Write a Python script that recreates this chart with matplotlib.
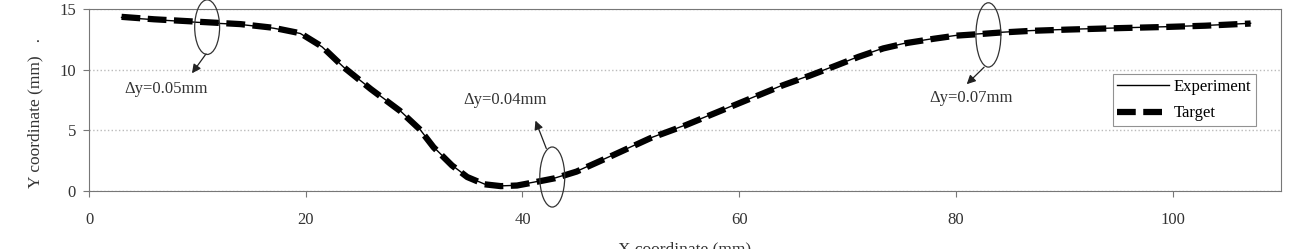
import matplotlib.pyplot as plt
from matplotlib.patches import Ellipse

# profile data (mm)
x_target = [3, 6, 10, 14, 17, 19.5, 21.5, 23.5, 26, 28.7, 30.5, 31.8, 33.5, 34.9, 36.5, 38,
            39.5, 41, 43, 45, 48, 51.8, 55, 58, 61, 64, 66.5, 68.7, 71, 73.3, 75.5, 78,
            80, 82.5, 84, 87, 90.3, 95, 99.5, 103, 107.2]
y_target = [14.35, 14.15, 13.95, 13.75, 13.45, 13.0, 11.9, 10.2, 8.4, 6.6, 5.1, 3.6, 2.1, 1.15, 0.55, 0.4,
            0.45, 0.7, 1.05, 1.6, 2.8, 4.35, 5.4, 6.5, 7.6, 8.7, 9.5, 10.25, 11.05, 11.75, 12.2, 12.55,
            12.8, 12.95, 13.05, 13.2, 13.3, 13.42, 13.52, 13.62, 13.8]
x_exp = x_target
y_exp = [14.3, 14.12, 13.9, 13.72, 13.42, 12.98, 11.88, 10.2, 8.42, 6.62, 5.12, 3.62, 2.12, 1.17, 0.57, 0.42,
         0.47, 0.72, 1.07, 1.62, 2.82, 4.37, 5.42, 6.52, 7.62, 8.72, 9.52, 10.27, 11.07, 11.77, 12.22, 12.57,
         12.82, 12.97, 13.07, 13.22, 13.32, 13.44, 13.54, 13.64, 13.82]

# deviation labels
dev_labels = ['Δy=0.05mm', 'Δy=0.04mm', 'Δy=0.07mm']

plt.rcParams['font.family'] = ['Liberation Serif', 'DejaVu Serif']

fig = plt.figure(figsize=(12.96, 2.49), dpi=100)
ax = fig.add_axes([0.0687, 0.233, 0.9197, 0.731])

ax.plot(x_target, y_target, color='black', lw=4.5, dashes=(3, 1.2), label='Target', zorder=3)
ax.plot(x_exp, y_exp, color='black', lw=1.0, label='Experiment', zorder=4)

ax.set_xlim(0, 110)
ax.set_ylim(0, 15)
ax.set_xticks([0, 20, 40, 60, 80, 100])
ax.set_yticks([0, 5, 10, 15])
ax.yaxis.grid(True, color='#bbbbbb', linestyle=':', lw=1)
ax.set_axisbelow(True)
for s in ax.spines.values():
    s.set_color('#777777')
ax.tick_params(colors='#777777', labelcolor='#333333', labelsize=12, length=4, width=0.8)
ax.tick_params(axis='x', pad=11)
ax.tick_params(axis='y', pad=5.5)

ax.set_ylabel('Y coordinate (mm)   .', fontsize=12.5, color='#333333')
ax.yaxis.set_label_coords(-0.038, 0.43)
ax.set_xlabel('X coordinate (mm)', fontsize=12.5, color='#333333', labelpad=10)

# ellipses + arrows + labels
ells = [(10.9, 13.5, 2.3, 4.5), (42.75, 1.15, 2.3, 4.95), (83.0, 12.86, 2.3, 5.3)]
arrows = [((10.8, 11.3), (9.5, 9.7)), ((42.2, 3.5), (41.2, 5.8)), ((82.6, 10.2), (81.0, 8.8))]
texts = [(7.1, 8.4), (38.4, 7.5), (81.4, 7.7)]
for (cx, cy, w, h), (p0, p1), (tx, ty), lab in zip(ells, arrows, texts, dev_labels):
    ax.add_patch(Ellipse((cx, cy), w, h, fill=False, edgecolor='#333333', lw=0.9, clip_on=False, zorder=5))
    ax.annotate('', xy=p1, xytext=p0,
                arrowprops=dict(arrowstyle='-|>', color='#222222', lw=0.9, mutation_scale=13,
                                shrinkA=0, shrinkB=0))
    ax.text(tx, ty, lab, fontsize=12, color='#333333', ha='center', va='center')

handles, labels = ax.get_legend_handles_labels()
leg = ax.legend(handles[::-1], labels[::-1], loc='upper left', bbox_to_anchor=(0.859, 0.64),
                fontsize=12, frameon=True, fancybox=False, handlelength=3.1, labelspacing=0.65,
                borderpad=0.25, handletextpad=0.3, borderaxespad=0)
leg.get_frame().set_edgecolor('#777777')
leg.get_frame().set_linewidth(0.8)

fig.savefig('out.png', dpi=100)
